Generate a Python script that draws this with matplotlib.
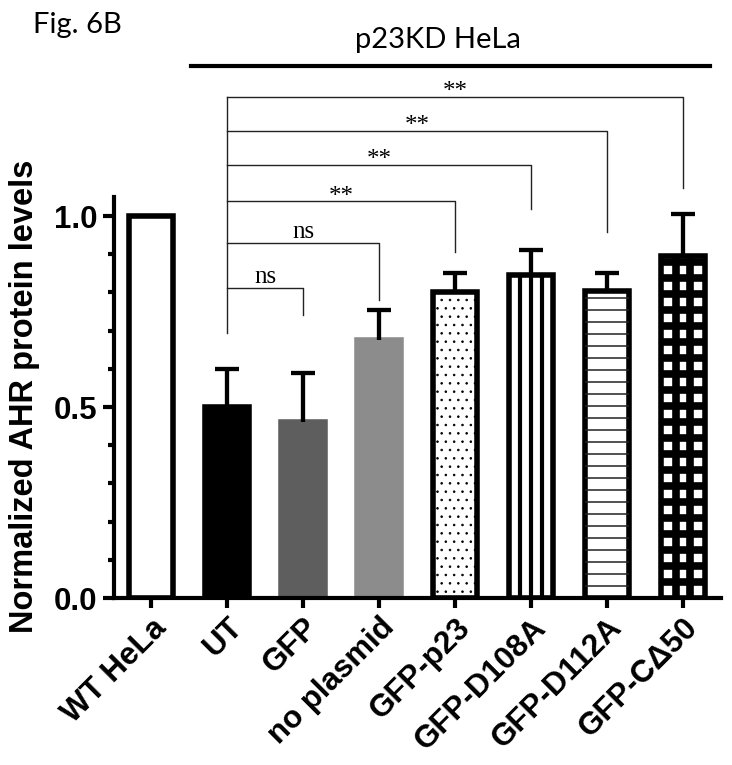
import matplotlib
matplotlib.use("Agg")
import matplotlib.pyplot as plt
import numpy as np
from matplotlib.ticker import FixedLocator
from matplotlib.transforms import blended_transform_factory

groups = ["WT HeLa", "UT", "GFP", "no plasmid", "GFP-p23", "GFP-D108A", "GFP-D112A", "GFP-C\u039450"]
means = [1.0, 0.50, 0.46, 0.675, 0.80, 0.845, 0.805, 0.895]
errors = [0.0, 0.10, 0.13, 0.08, 0.05, 0.065, 0.045, 0.11]

# comparisons against UT (index 1)
sig_targets = [2, 3, 4, 5, 6, 7]
sig_heights = [0.812, 0.929, 1.039, 1.134, 1.223, 1.312]
sig_ends = [0.741, 0.780, 0.906, 1.018, 0.958, 1.073]
sig_labels = ["ns", "ns", "**", "**", "**", "**"]

fills = ["white", "black", "#5e5e5e", "#8c8c8c", "white", "white", "white", "white"]
edges = ["black", "black", "#5e5e5e", "#8c8c8c", "black", "black", "black", "black"]


def main():
    plt.rcParams.update({"font.family": "Liberation Sans", "hatch.linewidth": 0.6})
    fig = plt.figure(figsize=(7.32, 7.65), dpi=100)
    ax = fig.add_axes([114/732, 167/765, 607/732, 519.5/765])
    ax.set_xlim(-0.487, 7.5); ax.set_ylim(0, 1.36)

    x = np.arange(len(groups))
    bars = ax.bar(x, means, width=0.58, color=fills, edgecolor=edges, linewidth=4, zorder=2)
    bars[4].set_hatch("..")

    # vertical stripes (D108A)
    b = bars[5]; x0, w, h = b.get_x(), b.get_width(), b.get_height()
    for f in (0.25, 0.5, 0.75):
        ax.plot([x0 + f*w]*2, [0, h], color="black", lw=3, solid_capstyle="butt", zorder=2.5)
    # horizontal thin lines (D112A)
    b = bars[6]; x0, w, h = b.get_x(), b.get_width(), b.get_height()
    for yy in np.arange(0.0314, h - 0.01, 0.0314):
        ax.plot([x0, x0 + w], [yy]*2, color="#222222", lw=1.1, solid_capstyle="butt", zorder=2.5)
    # grid (C-delta50)
    b = bars[7]; x0, w, h = b.get_x(), b.get_width(), b.get_height()
    for f in (1/3, 2/3):
        ax.plot([x0 + f*w]*2, [0, h], color="black", lw=5.5, solid_capstyle="butt", zorder=2.5)
    for yy in np.arange(0.0419, h - 0.01, 0.0419):
        ax.plot([x0, x0 + w], [yy]*2, color="black", lw=5.5, solid_capstyle="butt", zorder=2.5)

    eb = ax.errorbar(x[1:], means[1:], yerr=[np.zeros(len(groups)-1), errors[1:]], fmt="none",
                     ecolor="black", elinewidth=3.1, capsize=8.6, capthick=3.1, zorder=3)
    eb[1][0].set_visible(False)  # no cap at the bar top

    # significance brackets
    lc = "#222222"
    ax.plot([1, 1], [0.694, max(sig_heights)], color=lc, lw=1.0, zorder=1)
    for t, hgt, end, lab in zip(sig_targets, sig_heights, sig_ends, sig_labels):
        ax.plot([1, t, t], [hgt, hgt, end], color=lc, lw=1.0, zorder=1)
        dy = 3.5 if lab == "ns" else -1
        ax.annotate(lab, ((1 + t)/2, hgt), xytext=(0, dy), textcoords="offset points",
                    ha="center", va="baseline", fontsize=18, family="Liberation Serif")

    for s in ("top", "right"):
        ax.spines[s].set_visible(False)
    ax.spines["left"].set_bounds(0, 1.05)
    for s in ("left", "bottom"):
        ax.spines[s].set_linewidth(3)

    ax.yaxis.set_major_locator(FixedLocator([0, 0.5, 1.0]))
    ax.yaxis.set_minor_locator(FixedLocator(np.arange(1, 10)/10))
    ax.set_yticklabels(["0.0", "0.5", "1.0"], fontsize=22.5, fontweight="bold")
    ax.tick_params(axis="y", which="major", length=8, width=3, pad=4)
    ax.tick_params(axis="y", which="minor", length=4.5, width=3)
    ax.set_xticks(x)
    ax.set_xticklabels(groups, fontsize=22.5, fontweight="bold", rotation=45, ha="right",
                       rotation_mode="anchor")
    ax.tick_params(axis="x", length=7.5, width=3, pad=3)

    fig.text(25/732, 1 - 396/765, "Normalized AHR protein levels", rotation=90, ha="center",
             va="center", fontsize=23.5, fontweight="bold")

    tr = blended_transform_factory(ax.transData, ax.transAxes)
    ax.plot([0.53, 7.36], [1.024, 1.024], color="black", lw=3, transform=tr, clip_on=False)
    ax.text(3.78, 1.074, "p23KD HeLa", transform=tr, ha="center", va="center", fontsize=21,
            family="Lato")
    fig.text(33/732, 1 - 25/765, "Fig. 6B", ha="left", va="center", fontsize=21, family="Lato")

    fig.savefig("out.png", dpi=100)
    plt.close(fig)


if __name__ == "__main__": main()
